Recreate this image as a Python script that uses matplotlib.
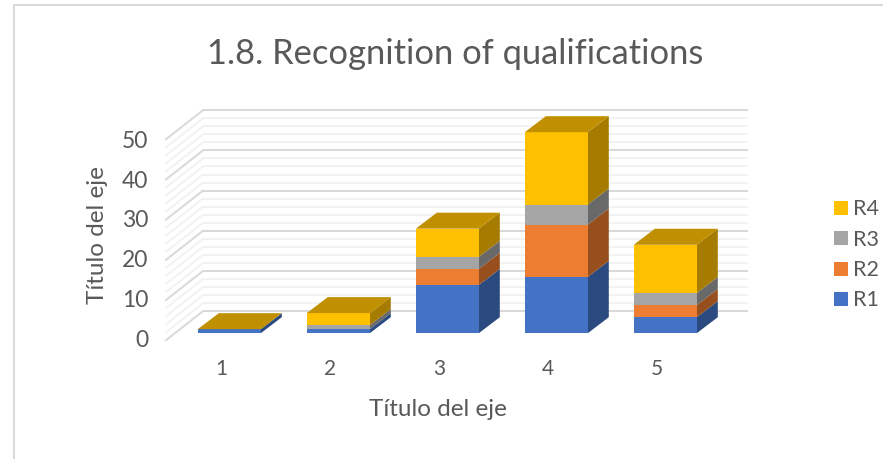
import matplotlib
matplotlib.use('Agg')
import numpy as np
import matplotlib.pyplot as plt
from matplotlib.patches import Rectangle

categories = [1, 2, 3, 4, 5]
r1 = [1, 1, 12, 14, 4]
r2 = [0, 0, 4, 13, 3]
r3 = [0, 1, 3, 5, 3]
r4 = [0, 3, 7, 18, 12]
series_names = ['R1', 'R2', 'R3', 'R4']
y_ticks = [0, 10, 20, 30, 40, 50]
minor_ticks = np.arange(0, 51, 2)

front_colors = ['#4472C4', '#ED7D31', '#A5A5A5', '#FFC000']
side_colors = ['#2A4A80', '#97501D', '#696969', '#A67C00']
top_color = '#C09000'
text_color = '#595959'

W, H = 883, 460
PX = 109.0     # pixels per category
PY = 4.02      # pixels per unit
X0 = 229.3     # pixel x of category 1
Y0 = 334.2     # pixel y of value 0

plt.rcParams['font.family'] = ['Lato', 'DejaVu Sans']
fig = plt.figure(figsize=(W / 100, H / 100), dpi=100)
ax = fig.add_axes([0, 0, 1, 1])
ax.set_xlim(1 - X0 / PX, 1 + (W - X0) / PX)
ax.set_ylim((Y0 - H) / PY, Y0 / PY)
ax.axis('off')

bar_w = 63 / PX
bar_dx, bar_dy = 21 / PX, 16 / PY       # depth of one bar
wall_x = (203 - X0) / PX + 1            # back wall left edge
wall_end = (748 - X0) / PX + 1
wall_dx, wall_dy = 37 / PX, 29 / PY     # depth of left wall
back_y = 22 / PY                        # back wall zero above front zero


def px(n):
    return n * 72 / 100


# grid on the back and left walls
for t in minor_ticks:
    major = t in y_ticks
    c = '#D9D9D9' if major else '#F2F2F2'
    y = t + back_y
    ax.plot([wall_x, wall_end], [y, y], color=c, lw=px(2), zorder=2 if major else 1, solid_capstyle='butt')
    ax.plot([wall_x - wall_dx, wall_x], [y - wall_dy, y], color=c, lw=px(2), zorder=2 if major else 1)

# stacked bars
series = [r1, r2, r3, r4]
bottom = np.zeros(len(categories))
for vals, fc, sc in zip(series, front_colors, side_colors):
    vals = np.array(vals, dtype=float)
    ax.bar(categories, vals, width=bar_w, bottom=bottom, color=fc, zorder=5)
    for c, b, v in zip(categories, bottom, vals):
        if v == 0:
            continue
        xr = c + bar_w / 2
        ax.fill([xr, xr + bar_dx, xr + bar_dx, xr],
                [b, b + bar_dy, b + v + bar_dy, b + v], color=sc, lw=0, zorder=4)
    bottom = bottom + vals

for c, top in zip(categories, bottom):
    xl, xr = c - bar_w / 2, c + bar_w / 2
    ax.fill([xl, xr, xr + bar_dx, xl + bar_dx],
            [top, top, top + bar_dy, top + bar_dy], color=top_color, lw=0, zorder=6)

# axis labels
for t in y_ticks:
    ax.text(148 / PX - X0 / PX + 1, t * 0.99 - 6 / PY, str(t), ha='right', va='center', color=text_color, fontsize=16.5)
for c in categories:
    ax.text(c - 8 / PX, -35 / PY, str(c), ha='center', va='center', color=text_color, fontsize=15)

fig.text(455 / W, 1 - 54 / H, '1.8. Recognition of qualifications', ha='center', va='center',
         color=text_color, fontsize=24.8)
fig.text(438 / W, 1 - 410 / H, 'Título del eje', ha='center', va='center', color=text_color, fontsize=17.5)
fig.text(97.5 / W, 1 - 235 / H, 'Título del eje', ha='center', va='center', rotation=90,
         color=text_color, fontsize=17.5)

# legend by hand, top entry is last series
for i, name in enumerate(series_names[::-1]):
    y = 202 + i * 30.3
    fig.add_artist(Rectangle((834 / W, 1 - (y + 14) / H), 14 / W, 14 / H, transform=fig.transFigure,
                             facecolor=front_colors[3 - i], edgecolor='none'))
    fig.text(853 / W, 1 - (y + 7.5) / H, name, ha='left', va='center', color=text_color, fontsize=15.5)

# chart frame
fig.add_artist(plt.Line2D([13.5 / W, 13.5 / W, 1], [0, 1 - 5.5 / H, 1 - 5.5 / H], color='#D9D9D9', lw=px(2)))

fig.savefig('out.png', dpi=100)
